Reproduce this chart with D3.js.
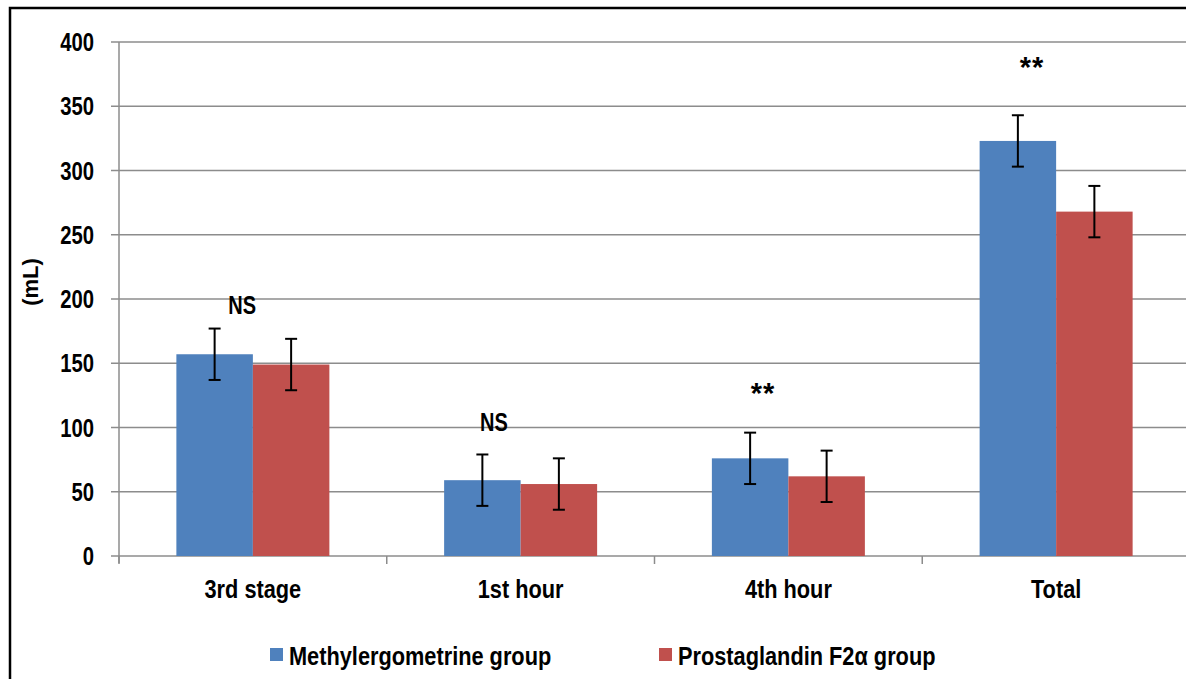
<!DOCTYPE html>
<html>
<head>
<meta charset="utf-8">
<script src="https://cdn.jsdelivr.net/npm/d3@7"></script>
<style>
  body { margin: 0; background: #fff; }
  svg text { font-family: "Liberation Sans", Arial, sans-serif; font-weight: bold; fill: #000; }
</style>
</head>
<body>
<svg id="chart" width="1186" height="679"></svg>
<script>
// data
var categories = ["3rd stage", "1st hour", "4th hour", "Total"];
var seriesNames = ["Methylergometrine group", "Prostaglandin F2\u03b1 group"];
var methylValues = [157, 59, 76, 323];
var prostaValues = [149, 56, 62, 268];
var methylErrors = [20, 20, 20, 20];
var prostaErrors = [20, 20, 20, 20];
var marks = ["NS", "NS", "**", "**"];
var markValues = [188, 97, 119, 373];
var yTicks = [0, 50, 100, 150, 200, 250, 300, 350, 400];

var colors = ["#4F81BD", "#C0504D"];
// where each mark sits across its category band (0..1)
var markPlace = [0.46, 0.40, 0.405, 0.41];

var svg = d3.select("#chart");
var plotLeft = 119, plotRight = 1190, plotTop = 42, plotBottom = 556;

// squeeze text horizontally, the source font looks condensed
function squeeze(sel, k) {
    sel.each(function() {
        var len = this.getComputedTextLength();
        d3.select(this).attr("textLength", len * k).attr("lengthAdjust", "spacingAndGlyphs");
    });
}

// outer frame
svg.append("rect")
    .attr("x", 10).attr("y", 8)
    .attr("width", 1200).attr("height", 700)
    .attr("fill", "none").attr("stroke", "#000").attr("stroke-width", 2.5);

var y = d3.scaleLinear().domain([0, 400]).range([plotBottom, plotTop]);
var x = d3.scaleBand().domain(categories).range([plotLeft, plotRight]).paddingInner(0).paddingOuter(0);
// excel style gap width 150%
var barW = x.bandwidth() / 3.5;

// gridlines + y ticks
svg.append("g").selectAll("line").data(yTicks).enter().append("line")
    .attr("x1", plotLeft - 8).attr("x2", plotRight)
    .attr("y1", function(d) { return y(d); }).attr("y2", function(d) { return y(d); })
    .attr("stroke", "#8c8c8c").attr("stroke-width", 1.5);

svg.append("g").selectAll("text").data(yTicks).enter().append("text")
    .attr("x", plotLeft - 25).attr("y", function(d) { return y(d) + 9; })
    .attr("text-anchor", "end").style("font-size", "25px")
    .text(function(d) { return d; })
    .call(squeeze, 0.81);

// y axis line
svg.append("line").attr("x1", plotLeft).attr("x2", plotLeft).attr("y1", plotTop).attr("y2", plotBottom + 7)
    .attr("stroke", "#8c8c8c").attr("stroke-width", 1.5);

// x category tick marks
var bounds = categories.map(function(c) { return x(c); }).concat([plotRight]);
svg.append("g").selectAll("line").data(bounds).enter().append("line")
    .attr("x1", function(d) { return d; }).attr("x2", function(d) { return d; })
    .attr("y1", plotBottom).attr("y2", plotBottom + 8)
    .attr("stroke", "#8c8c8c").attr("stroke-width", 1.5);

svg.append("g").selectAll("text").data(categories).enter().append("text")
    .attr("x", function(d) { return x(d) + x.bandwidth() / 2; })
    .attr("y", plotBottom + 42)
    .attr("text-anchor", "middle").style("font-size", "25px")
    .text(function(d) { return d; })
    .call(squeeze, 0.87);

// y label
svg.append("text")
    .attr("transform", "translate(38,282) rotate(-90)")
    .attr("text-anchor", "middle").style("font-size", "22px")
    .text("(mL)");

// bars
var series = [
    {vals: methylValues, errs: methylErrors},
    {vals: prostaValues, errs: prostaErrors}
];
series.forEach(function(s, si) {
    var g = svg.append("g");
    var xPos = function(i) { return x(categories[i]) + barW * 0.75 + si * barW; };
    g.selectAll("rect").data(s.vals).enter().append("rect")
        .attr("x", function(d, i) { return xPos(i); })
        .attr("y", function(d) { return y(d); })
        .attr("width", barW)
        .attr("height", function(d) { return plotBottom - y(d); })
        .attr("fill", colors[si]);

    // error bars
    s.vals.forEach(function(v, i) {
        var cx = xPos(i) + barW / 2;
        var e = s.errs[i];
        g.append("line").attr("x1", cx).attr("x2", cx)
            .attr("y1", y(v + e)).attr("y2", y(v - e))
            .attr("stroke", "#000").attr("stroke-width", 2);
        [v + e, v - e].forEach(function(w) {
            g.append("line").attr("x1", cx - 6).attr("x2", cx + 6)
                .attr("y1", y(w)).attr("y2", y(w))
                .attr("stroke", "#000").attr("stroke-width", 2);
        });
    });
});

// significance marks
var markText = svg.append("g").selectAll("text").data(marks).enter().append("text")
    .attr("x", function(d, i) { return x(categories[i]) + x.bandwidth() * markPlace[i]; })
    .attr("y", function(d, i) { return y(markValues[i]); })
    .attr("text-anchor", "middle")
    .style("font-size", function(d) { return d == "**" ? "29px" : "25px"; })
    .style("letter-spacing", function(d) { return d == "**" ? "1px" : "0px"; })
    .text(function(d) { return d; });
squeeze(markText.filter(function(d) { return d == "NS"; }), 0.8);

// legend
var legendX = [270, 659];
seriesNames.forEach(function(n, i) {
    svg.append("rect").attr("x", legendX[i]).attr("y", 648)
        .attr("width", 13).attr("height", 13).attr("fill", colors[i]);
    svg.append("text").attr("x", legendX[i] + 19).attr("y", 665)
        .style("font-size", "25px").text(n)
        .call(squeeze, 0.87);
});
</script>
</body>
</html>
